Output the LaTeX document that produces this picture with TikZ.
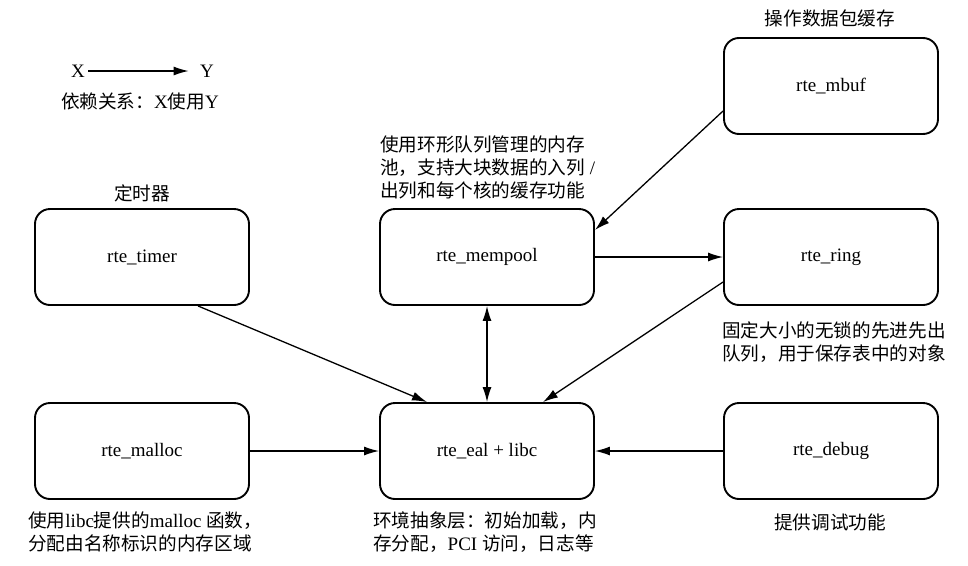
\documentclass[tikz,border=0pt]{standalone}
\usepackage{fontspec}
\setmainfont{Liberation Serif}
\newfontfamily\cjk{Noto Sans CJK SC}[Scale=0.98]
\usetikzlibrary{arrows.meta}
\begin{document}
\begin{tikzpicture}[x=1pt,y=-1pt,
  every node/.style={font=\fontsize{19}{23}\selectfont},
  box/.style={draw, line width=1.9pt, rounded corners=15pt, minimum width=214pt, minimum height=96pt, inner sep=0pt},
  lbl/.style={inner sep=0pt, align=left},
  conn/.style={line width=1.3pt, -{Latex[length=15pt,width=9pt]}},
  biconn/.style={line width=1.3pt, {Latex[length=15pt,width=9pt]}-{Latex[length=15pt,width=9pt]}}]
\useasboundingbox (0,0) rectangle (968,565);
% legend
\node (lx) at (78,71) {X};
\node (ly) at (207,71) {Y};
\draw[conn, shorten >=8pt] (lx) -- (ly);
\node[lbl] (legtxt) at (140,101) {{\cjk 依赖关系：}X{\cjk 使用}Y};
% boxes
\node[box] (mbuf) at (831,86) {rte\_mbuf};
\node[box] (timer) at (142,257) {rte\_timer};
\node[box] (mempool) at (487,257) {rte\_mempool};
\node[box] (ring) at (831,257) {rte\_ring};
\node[box] (malloc) at (142,451) {rte\_malloc};
\node[box] (eal) at (487,451) {rte\_eal + libc};
\node[box] (debug) at (831,451) {rte\_debug};
% labels
\node[lbl] (mbuflbl) at (830,18) {\cjk 操作数据包缓存};
\node[lbl] (timerlbl) at (142,193) {\cjk 定时器};
\node[lbl, anchor=west] (mempoollbl) at (380,167) {{\cjk 使用环形队列管理的内存}\\{\cjk 池，支持大块数据的入列} /\\{\cjk 出列和每个核的缓存功能}};
\node[lbl, anchor=west] (ringlbl) at (722,342) {{\cjk 固定大小的无锁的先进先出}\\{\cjk 队列，用于保存表中的对象}};
\node[lbl, anchor=west] (malloclbl) at (28,532) {{\cjk 使用}libc{\cjk 提供的}malloc {\cjk 函数，}\\{\cjk 分配由名称标识的内存区域}};
\node[lbl, anchor=west] (eallbl) at (373,532) {{\cjk 环境抽象层：初始加载，内}\\{\cjk 存分配，}PCI {\cjk 访问，日志等}};
\node[lbl] (debuglbl) at (830,522) {\cjk 提供调试功能};
% connectors
\draw[conn] ([yshift=-25pt]mbuf.west) -- ([yshift=27pt]mempool.east);
\draw[conn] (mempool.east) -- (ring.west);
\draw[conn] ([yshift=-25pt]ring.west) -- ([xshift=56pt]eal.north);
\draw[conn] ([xshift=56pt]timer.south) -- ([xshift=-60pt]eal.north);
\draw[biconn] (mempool.south) -- (eal.north);
\draw[conn] (malloc.east) -- (eal.west);
\draw[conn] (debug.west) -- (eal.east);
\end{tikzpicture}
\end{document}
